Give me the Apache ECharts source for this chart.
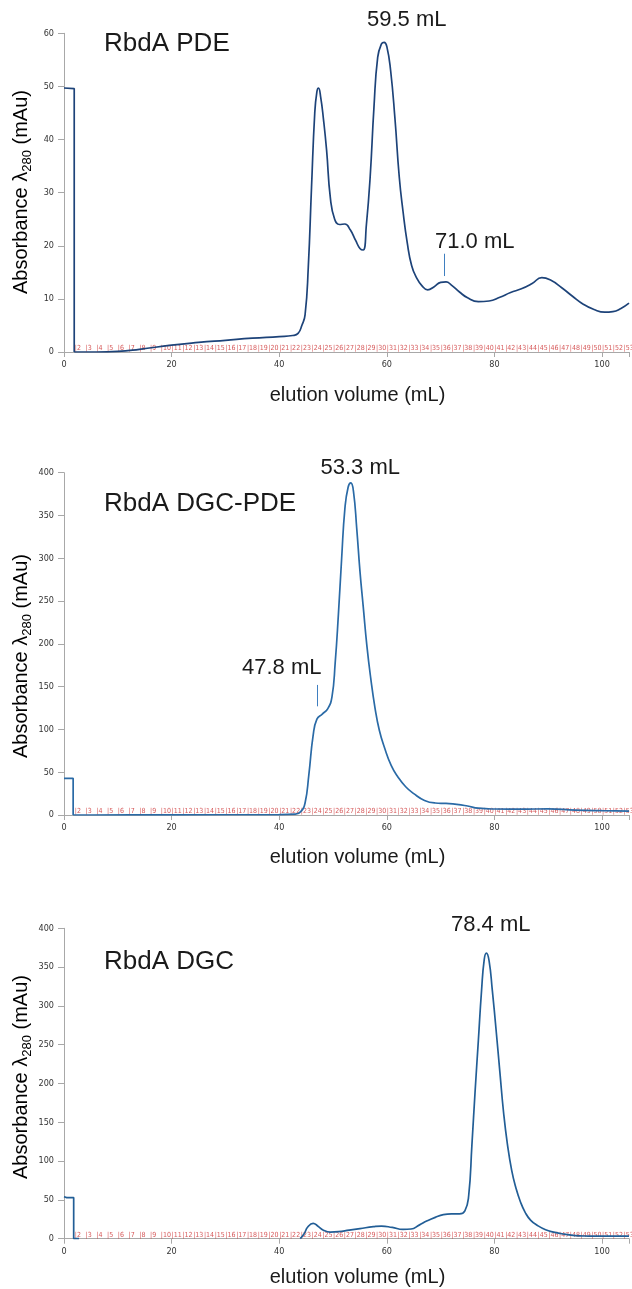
<!DOCTYPE html>
<html>
<head>
<meta charset="utf-8">
<script src="https://cdn.jsdelivr.net/npm/echarts@6/dist/echarts.min.js"></script>
<style>
html,body{margin:0;padding:0;background:#fff;}
#c{width:632px;height:1289px;}
</style>
</head>
<body>
<div id="c"></div>
<script>
// ---------- DATA ----------
// injection step (flow-through plateau) for each run
const pdeInjX = [0, 1.9, 1.9];
const pdeInjY = [49.7, 49.6, 0];
const dgcpdeInjX = [0, 1.7, 1.7];
const dgcpdeInjY = [42.8, 42.8, 0];
const dgcInjX = [0, 0.5, 1.8, 1.8, 2.8];
const dgcInjY = [54, 53, 53, 0, 0];

// elution traces
const pdeX = [1.9, 3, 6, 10, 14, 20, 25, 30, 35, 40, 42.5, 43.5, 44.2, 44.8, 45.4, 46.0, 46.6, 47.0, 47.3, 47.7, 48.2, 48.8, 49.5, 50.3, 51.2, 52.2, 53.2, 54.2, 55.0, 55.6, 56.2, 56.9, 57.6, 58.3, 59.0, 59.5, 60.0, 60.7, 61.5, 62.3, 63.0, 63.8, 64.6, 65.5, 66.5, 67.6, 68.8, 70.0, 71.0, 72.0, 73.5, 75.0, 77.0, 79.0, 81.0, 83.0, 85.0, 87.0, 88.8, 90.5, 92.5, 94.5, 96.5, 98.5, 100.5, 102.0, 103.5, 105];
const pdeY = [0, 0, 0, 0.1, 0.5, 1.3, 1.8, 2.2, 2.6, 2.9, 3.1, 3.5, 5, 7, 16, 31, 45, 49, 49.7, 48, 44, 38, 29, 25, 24, 24.1, 23, 21, 19.5, 19.2, 24, 33, 46, 55.5, 58, 58.3, 57.5, 53, 44, 33, 26.5, 20.5, 16.3, 14, 12.5, 11.7, 12.3, 13.1, 13.2, 12.6, 11.3, 10.2, 9.5, 9.6, 10.3, 11.2, 11.9, 12.9, 14.0, 13.5, 12.1, 10.5, 9.0, 8.0, 7.5, 7.6, 8.2, 9.2];

const dgcpdeX = [1.7, 5, 20, 40, 43, 44, 44.8, 45.5, 46.3, 47.0, 48.0, 49.0, 49.8, 50.4, 51.0, 51.6, 52.2, 52.8, 53.3, 53.8, 54.4, 55.0, 55.6, 56.3, 57.0, 57.8, 58.6, 59.6, 60.8, 62.0, 63.5, 65.0, 67.0, 69.0, 71.0, 73.0, 75.0, 77.0, 80.0, 85.0, 90.0, 95.0, 100.0, 105.0];
const dgcpdeY = [0, 0, 0.2, 0.5, 1, 4, 14, 47, 93, 112, 118, 124, 138, 178, 235, 300, 358, 383, 388, 378, 335, 285, 244, 197, 160, 125, 99, 78, 58, 45, 33, 25, 17, 14, 13.5, 12.5, 10.5, 8, 7, 6.8, 7.2, 5.8, 5, 4.5];

const dgcX = [43.9, 44.6, 45.3, 46.3, 47.2, 48.2, 49.5, 51, 53, 55, 57.5, 59, 61, 63, 64.5, 66, 67.5, 69, 70.5, 72, 73.5, 74.5, 75.2, 75.8, 76.4, 77.0, 77.6, 78.1, 78.5, 79.0, 79.6, 80.3, 81.0, 81.7, 82.4, 83.2, 84.0, 84.8, 85.7, 86.7, 88.0, 89.5, 91.0, 93.0, 95.0, 97.5, 100, 105];
const dgcY = [0, 6, 15, 19.8, 16, 11, 8.5, 9, 11, 13, 15.5, 16.3, 14.5, 12, 12.5, 17.5, 23, 27.5, 31, 32, 32, 36, 55, 120, 190, 255, 320, 360, 368, 358, 320, 269, 215, 162, 122, 88, 65, 48, 34, 24, 17, 11.5, 8.5, 5.8, 4, 3.4, 3.2, 3.2];

const fractionNums = [2,3,4,5,6,7,8,9,10,11,12,13,14,15,16,17,18,19,20,21,22,23,24,25,26,27,28,29,30,31,32,33,34,35,36,37,38,39,40,41,42,43,44,45,46,47,48,49,50,51,52,53];
const fractionStart = [2,4,6,8,10,12,14,16,18,20,22,24,26,28,30,32,34,36,38,40,42,44,46,48,50,52,54,56,58,60,62,64,66,68,70,72,74,76,78,80,82,84,86,88,90,92,94,96,98,100,102,104];

const xTicks = [0, 20, 40, 60, 80, 100];
const titles = ['RbdA PDE', 'RbdA DGC-PDE', 'RbdA DGC'];
const peakLabels = [['59.5 mL', '71.0 mL'], ['53.3 mL', '47.8 mL'], ['78.4 mL']];
// marker ticks (data coords): [x, yFrom, yTo]
const pdeMarker = [70.7, 14.3, 18.5];
const dgcpdeMarker = [47.0, 127, 152];

// ---------- BUILD ----------
const pair = (xs, ys) => xs.map((v, i) => [v, ys[i]]);
const fracData = fractionStart.map((v, i) => [v, 0, fractionNums[i]]);

const grids = [
  {left: 64, top: 33.3, width: 569, height: 318.7},
  {left: 64, top: 472.7, width: 569, height: 342.3},
  {left: 64, top: 928.3, width: 569, height: 310.4}
];
const yMax = [60, 400, 400];
const yInt = [10, 50, 50];
const lineColors = ['#1d4379', '#2a6aa6', '#225e96'];

const axisFont = '"DejaVu Sans Condensed", "DejaVu Sans", sans-serif';
const mainFont = '"Liberation Sans", Arial, sans-serif';

const xAxes = grids.map((g, i) => ({
  type: 'value', gridIndex: i, min: 0, max: 105, interval: 20,
  showMaxLabel: false,
  axisLine: {show: true, lineStyle: {color: '#a8a8a8', width: 1}},
  axisTick: {show: true, length: 5, lineStyle: {color: '#a8a8a8'}},
  axisLabel: {color: '#333', fontSize: 9, fontFamily: axisFont, margin: 8,
    formatter: v => (xTicks.indexOf(v) >= 0 ? String(v) : '')},
  splitLine: {show: false}
}));
const yAxes = grids.map((g, i) => ({
  type: 'value', gridIndex: i, min: 0, max: yMax[i], interval: yInt[i],
  axisLine: {show: true, onZero: false, lineStyle: {color: '#a8a8a8', width: 1}},
  axisTick: {show: true, length: 6, lineStyle: {color: '#a8a8a8'}},
  axisLabel: {color: '#333', fontSize: 9, fontFamily: axisFont, margin: 10},
  splitLine: {show: false}
}));

const injections = [pair(pdeInjX, pdeInjY), pair(dgcpdeInjX, dgcpdeInjY), pair(dgcInjX, dgcInjY)];
const curves = [pair(pdeX, pdeY), pair(dgcpdeX, dgcpdeY), pair(dgcX, dgcY)];
const markers = [pdeMarker, dgcpdeMarker, null];

const series = [];
curves.forEach((d, i) => {
  series.push({
    type: 'line', xAxisIndex: i, yAxisIndex: i, data: injections[i],
    showSymbol: false, symbol: 'none', smooth: false, clip: true,
    lineStyle: {color: lineColors[i], width: 1.7}, z: 3
  });
  const s = {
    type: 'line', xAxisIndex: i, yAxisIndex: i, data: d,
    showSymbol: false, symbol: 'none', smooth: 0.5,
    clip: true,
    lineStyle: {color: lineColors[i], width: 1.7}, z: 3
  };
  if (markers[i]) {
    const m = markers[i];
    s.markLine = {
      silent: true, symbol: 'none', animation: false,
      label: {show: false},
      lineStyle: {color: '#3f7fc0', width: 1, type: 'solid'},
      data: [[{coord: [m[0], m[1]]}, {coord: [m[0], m[2]]}]]
    };
  }
  series.push(s);
  series.push({
    type: 'scatter', xAxisIndex: i, yAxisIndex: i, data: fracData,
    symbolSize: 0, silent: true, clip: false, z: 2,
    label: {show: true, position: 'right', distance: 0, offset: [0, -4],
      color: '#cc2e30', fontSize: 7, fontFamily: axisFont,
      formatter: p => '|' + p.data[2]}
  });
});

function txt(x, y, text, size) {
  return {type: 'text', x: x, y: y, silent: true,
    style: {text: text, fill: '#1a1a1a', font: size + 'px ' + mainFont, align: 'left', verticalAlign: 'middle'}};
}
function ctxt(x, y, text, size) {
  return {type: 'text', x: x, y: y, silent: true,
    style: {text: text, fill: '#1a1a1a', font: size + 'px ' + mainFont, align: 'center', verticalAlign: 'middle'}};
}
function yName(x, y) {
  return {type: 'text', x: x, y: y, rotation: Math.PI / 2, silent: true,
    style: {text: '{a|Absorbance }{a|λ}{s|280}{a| (mAu)}', align: 'center', verticalAlign: 'middle',
      rich: {
        a: {fontSize: 20, fontFamily: mainFont, color: '#1a1a1a', lineHeight: 26, verticalAlign: 'middle'},
        s: {fontSize: 13, fontFamily: mainFont, color: '#1a1a1a', lineHeight: 14, verticalAlign: 'bottom'}
      }}};
}

const graphic = [
  txt(104, 44, titles[0], 26),
  txt(367, 20, peakLabels[0][0], 22),
  txt(435, 241.5, peakLabels[0][1], 22),
  ctxt(357.5, 395, 'elution volume (mL)', 20),
  yName(21, 192),

  txt(104, 504, titles[1], 26),
  txt(320.5, 467.5, peakLabels[1][0], 22),
  txt(242, 667.5, peakLabels[1][1], 22),
  ctxt(357.5, 857, 'elution volume (mL)', 20),
  yName(21, 656),

  txt(104, 962, titles[2], 26),
  txt(451, 925, peakLabels[2][0], 22),
  ctxt(357.5, 1277, 'elution volume (mL)', 20),
  yName(21, 1077)
];

const chart = echarts.init(document.getElementById('c'), null, {renderer: 'canvas'});
chart.setOption({
  backgroundColor: '#ffffff',
  animation: false,
  grid: grids,
  xAxis: xAxes,
  yAxis: yAxes,
  series: series,
  graphic: graphic
});
</script>
</body>
</html>
